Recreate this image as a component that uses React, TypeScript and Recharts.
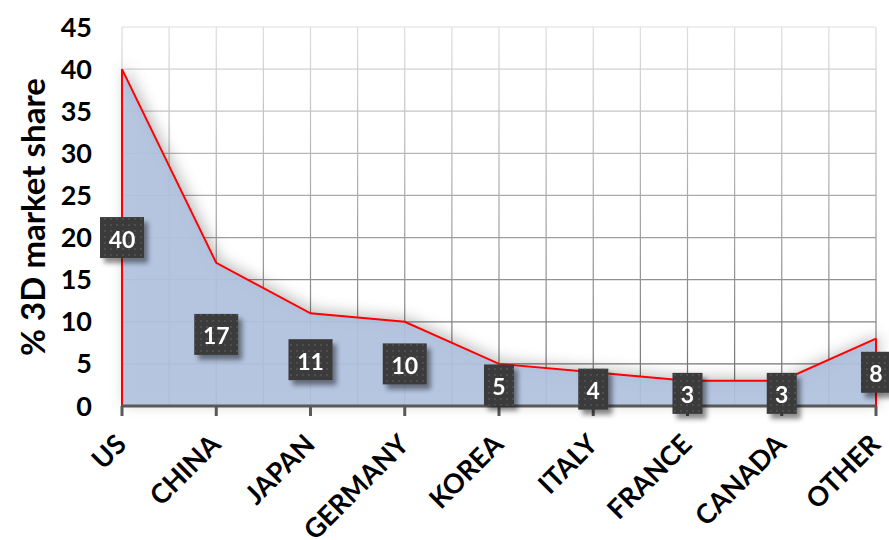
import { Area, AreaChart, CartesianGrid, LabelList, Line, ReferenceLine, XAxis, YAxis } from "recharts";

const countries = ["US", "CHINA", "JAPAN", "GERMANY", "KOREA", "ITALY", "FRANCE", "CANADA", "OTHER"];
const shares = [40, 17, 11, 10, 5, 4, 3, 3, 8];
const yTicks = [0, 5, 10, 15, 20, 25, 30, 35, 40, 45];
// vertical grid runs every half category
const gridSteps = Array.from({ length: countries.length * 2 - 1 }, (_, i) => i / 2);

const data = countries.map((country, i) => ({ country, pos: i, share: shares[i], mid: shares[i] / 2 }));

const FONT = "Lato, 'Liberation Sans', sans-serif";

// dark value tag, centred halfway up the area
function ValueTag(props: any) {
  const { x, y, value } = props;
  const w = String(value).length > 1 ? 44 : 30;
  const h = 41;
  return (
    <g filter="url(#tagShadow)">
      <rect x={x - w / 2} y={y - h / 2} width={w} height={h} fill="#3b3b3b" />
      <rect x={x - w / 2} y={y - h / 2} width={w} height={h} fill="url(#tagDots)" />
      <text x={x} y={y + 1} textAnchor="middle" dominantBaseline="central" fill="#fff" fontFamily={FONT} fontWeight={700} fontSize={23}>
        {value}
      </text>
    </g>
  );
}

function CountryTick(props: any) {
  const { x, y, payload } = props;
  const ax = x + 6;
  const ay = y + 28;
  return (
    <text x={ax} y={ay} transform={`rotate(-45 ${ax} ${ay})`} textAnchor="end" fill="#000" fontFamily={FONT} fontWeight={700} fontSize={27}>
      {payload.value}
    </text>
  );
}

export default function App() {
  return (
    <div style={{ position: "absolute", left: 0, top: 0, background: "#fff" }}>
      <AreaChart width={889} height={540} data={data} margin={{ top: 27, right: 13, bottom: 104, left: 0 }}>
        <defs>
          <linearGradient id="gridFade" gradientUnits="userSpaceOnUse" x1="0" y1="27" x2="0" y2="406">
            <stop offset="0" stopColor="#dedede" />
            <stop offset="1" stopColor="#6a6a6a" />
          </linearGradient>
          <filter id="areaGlow" x="-20%" y="-30%" width="140%" height="160%">
            <feDropShadow dx="3" dy="-2" stdDeviation="7" floodColor="#000" floodOpacity="0.26" />
          </filter>
          <filter id="tagShadow" x="-50%" y="-50%" width="200%" height="200%">
            <feDropShadow dx="4" dy="5" stdDeviation="2.5" floodColor="#000" floodOpacity="0.45" />
          </filter>
          <pattern id="tagDots" patternUnits="userSpaceOnUse" width="6" height="6">
            <circle cx="3" cy="3" r="0.9" fill="#585858" />
          </pattern>
        </defs>
        <CartesianGrid xAxisId="grid" stroke="url(#gridFade)" strokeWidth={1.2} />
        <XAxis xAxisId="grid" type="number" dataKey="pos" domain={[0, countries.length - 1]} ticks={gridSteps} hide />
        <XAxis
          dataKey="country"
          interval={0}
          axisLine={{ stroke: "#595959", strokeWidth: 3 }}
          tickLine={{ stroke: "#595959", strokeWidth: 3 }}
          tickSize={10}
          tickMargin={2}
          tick={<CountryTick />}
        />
        <YAxis
          width={122}
          domain={[0, 45]}
          ticks={yTicks}
          interval={0}
          axisLine={false}
          tickLine={false}
          tickSize={0}
          tickMargin={30}
          tick={{ fill: "#000", fontFamily: FONT, fontWeight: 700, fontSize: 27 }}
          label={{
            content: () => (
              <text x={32} y={217} transform="rotate(-90 32 217)" textAnchor="middle" dominantBaseline="central" fill="#000" fontFamily={FONT} fontWeight={700} fontSize={33}>
                % 3D market share
              </text>
            ),
          }}
        />
        <Area
          type="linear"
          dataKey="share"
          fill="#b2c3e1"
          fillOpacity={0.92}
          stroke="#ff0000"
          strokeWidth={2}
          filter="url(#areaGlow)"
          dot={false}
          activeDot={false}
          isAnimationActive={false}
        />
        <ReferenceLine segment={[{ x: countries[0], y: 0 }, { x: countries[0], y: shares[0] }]} stroke="#ff0000" strokeWidth={2} />
        <ReferenceLine
          segment={[{ x: countries[countries.length - 1], y: 0 }, { x: countries[countries.length - 1], y: shares[shares.length - 1] }]}
          stroke="#ff0000"
          strokeWidth={2}
        />
        <Line dataKey="mid" stroke="none" dot={false} activeDot={false} isAnimationActive={false}>
          <LabelList dataKey="share" content={<ValueTag />} />
        </Line>
      </AreaChart>
    </div>
  );
}
